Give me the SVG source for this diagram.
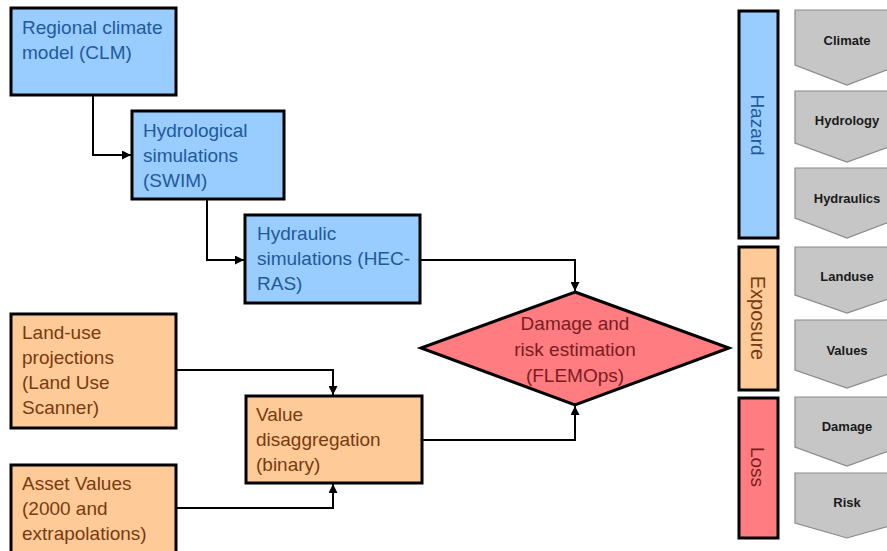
<svg xmlns="http://www.w3.org/2000/svg" width="887" height="551" viewBox="0 0 887 551">
<style>
  .box { stroke:#000; stroke-width:3; }
  .blue { fill:#99ccff; }
  .orange { fill:#fdca98; }
  .red { fill:#ff7c80; }
  .t { font-family:"Liberation Sans", Arial, sans-serif; font-size:19px; }
  .tb { fill:#1f5a9a; }
  .to { fill:#7a3a10; }
  .tr { fill:#7a1c20; }
  .chev { fill:#c6c6c6; stroke:#8a8a8a; stroke-width:1.2; }
  .cl { font-family:"Liberation Sans", Arial, sans-serif; font-size:13px; font-weight:bold; fill:#1a1a1a; text-anchor:middle; }
  .conn { fill:none; stroke:#000; stroke-width:2; }
</style>
<defs>
  <marker id="arr" viewBox="0 0 10 10" refX="10" refY="5" markerWidth="4.5" markerHeight="4.5" orient="auto" markerUnits="strokeWidth">
    <path d="M0,0 L10,5 L0,10 z" fill="#000"/>
  </marker>
</defs>
<rect width="887" height="551" fill="#fff"/>

<g id="connectors">
  <path class="conn" d="M93,95 V155 H131" marker-end="url(#arr)"/>
  <path class="conn" d="M207,199 V260 H244" marker-end="url(#arr)"/>
  <path class="conn" d="M420,260 H575 V291" marker-end="url(#arr)"/>
  <path class="conn" d="M176,370 H333 V395" marker-end="url(#arr)"/>
  <path class="conn" d="M176,508 H333 V484" marker-end="url(#arr)"/>
  <path class="conn" d="M420,440 H575 V406" marker-end="url(#arr)"/>
</g>

<g id="clm">
  <rect class="box blue" x="11" y="8" width="165" height="87"/>
  <text class="t tb" x="22"><tspan x="22" y="34">Regional climate</tspan><tspan x="22" y="59">model (CLM)</tspan></text>
</g>
<g id="swim">
  <rect class="box blue" x="132" y="111" width="152" height="88"/>
  <text class="t tb"><tspan x="143" y="137">Hydrological</tspan><tspan x="143" y="162">simulations</tspan><tspan x="143" y="187">(SWIM)</tspan></text>
</g>
<g id="hecras">
  <rect class="box blue" x="245" y="215" width="175" height="88"/>
  <text class="t tb"><tspan x="257" y="240">Hydraulic</tspan><tspan x="257" y="265">simulations (HEC-</tspan><tspan x="257" y="290">RAS)</tspan></text>
</g>
<g id="landuse">
  <rect class="box orange" x="11" y="314" width="165" height="114"/>
  <text class="t to"><tspan x="22" y="339">Land-use</tspan><tspan x="22" y="364">projections</tspan><tspan x="22" y="389">(Land Use</tspan><tspan x="22" y="414">Scanner)</tspan></text>
</g>
<g id="asset">
  <rect class="box orange" x="11" y="465" width="165" height="100"/>
  <text class="t to"><tspan x="22" y="490">Asset Values</tspan><tspan x="22" y="515">(2000 and</tspan><tspan x="22" y="540">extrapolations)</tspan></text>
</g>
<g id="value">
  <rect class="box orange" x="246" y="396" width="176" height="87"/>
  <text class="t to"><tspan x="256" y="421">Value</tspan><tspan x="256" y="446">disaggregation</tspan><tspan x="256" y="471">(binary)</tspan></text>
</g>
<g id="flemops">
  <polygon class="box red" points="575,292 729,348 575,405 421,348"/>
  <text class="t tr" text-anchor="middle"><tspan x="575" y="330">Damage and</tspan><tspan x="575" y="356">risk estimation</tspan><tspan x="575" y="382">(FLEMOps)</tspan></text>
</g>

<g id="hazard">
  <rect class="box blue" x="739" y="11" width="39" height="227"/>
  <text class="t tb" text-anchor="middle" transform="translate(758,125) rotate(90)" y="7">Hazard</text>
</g>
<g id="exposure">
  <rect class="box orange" x="739" y="247" width="39" height="143"/>
  <text class="t to" text-anchor="middle" transform="translate(758,318) rotate(90)" y="7" style="font-size:20px">Exposure</text>
</g>
<g id="loss">
  <rect class="box red" x="739" y="398" width="39" height="140"/>
  <text class="t tr" text-anchor="middle" transform="translate(758,467) rotate(90)" y="7">Loss</text>
</g>

<g id="climate">
  <polygon class="chev" points="795,10 900,10 900,65 847,85 795,65"/>
  <text class="cl" x="847" y="45">Climate</text>
</g>
<g id="hydrology">
  <polygon class="chev" points="795,91 900,91 900,143 847,162 795,143"/>
  <text class="cl" x="847" y="125">Hydrology</text>
</g>
<g id="hydraulics">
  <polygon class="chev" points="795,168 900,168 900,218 847,238 795,218"/>
  <text class="cl" x="847" y="203">Hydraulics</text>
</g>
<g id="landuse-c">
  <polygon class="chev" points="795,247 900,247 900,295 847,313 795,295"/>
  <text class="cl" x="847" y="281">Landuse</text>
</g>
<g id="values-c">
  <polygon class="chev" points="795,320 900,320 900,370 847,388 795,370"/>
  <text class="cl" x="847" y="355">Values</text>
</g>
<g id="damage-c">
  <polygon class="chev" points="795,397 900,397 900,447 847,466 795,447"/>
  <text class="cl" x="847" y="431">Damage</text>
</g>
<g id="risk-c">
  <polygon class="chev" points="795,473 900,473 900,523 847,538 795,523"/>
  <text class="cl" x="847" y="507">Risk</text>
</g>
</svg>
